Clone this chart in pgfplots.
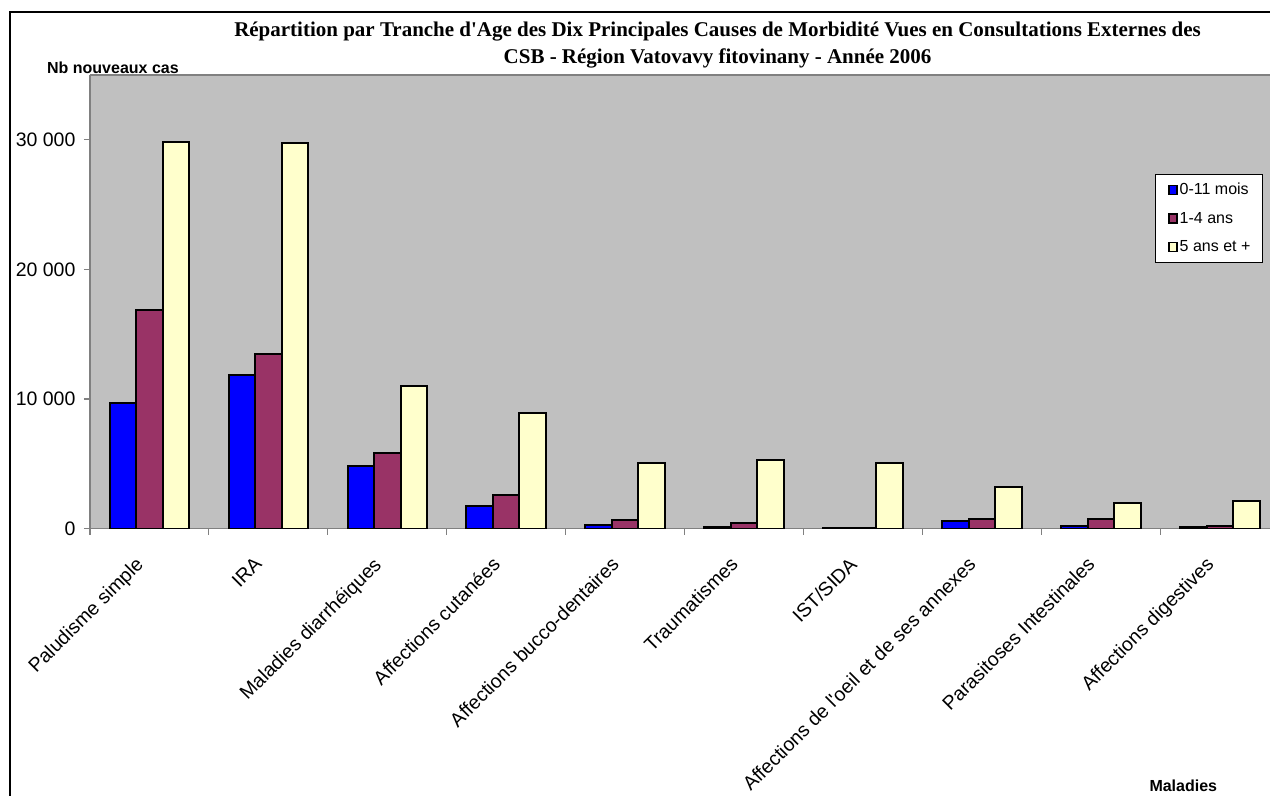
\documentclass[border=0pt]{standalone}
\usepackage{fontspec}
\setmainfont{Liberation Sans}
\newfontfamily\titlefont{Liberation Serif}
\usepackage{pgfplots}
\pgfplotsset{compat=1.18}
\definecolor{cblue}{HTML}{0000FF}
\definecolor{cplum}{HTML}{993366}
\definecolor{ccream}{HTML}{FFFFCC}
\definecolor{plotgray}{HTML}{C0C0C0}
\definecolor{axgray}{HTML}{808080}

\begin{document}
\begin{tikzpicture}[x=1pt,y=1pt]
\path (0,0) rectangle (1271,796);
\draw[line width=1.3pt] (10,0) -- (10,784) -- (1271,784);
\begin{axis}[
    at={(90pt,267pt)}, anchor=south west,
    scale only axis, width=1181pt, height=454pt,
    xmin=-0.5, xmax=9.4244, ymin=0, ymax=35000,
    ybar, bar width=0.2227,
    axis background/.style={fill=plotgray},
    axis x line*=bottom, axis y line*=left,
    axis line style={draw=axgray, line width=1.5pt},
    after end axis/.code={\draw[axgray, line width=1.5pt] (rel axis cs:0,1) -- (rel axis cs:1,1);},
    tick align=outside,
    major tick length=6pt, minor tick length=6pt,
    tick style={draw=axgray, line width=1.2pt},
    every major x tick/.append style={draw=none},
    xtick={0,...,9},
    minor xtick={-0.5,0.5,...,8.5},
    xticklabels={Paludisme simple, IRA, Maladies diarrhéiques, Affections cutanées,
      Affections bucco-dentaires, Traumatismes, IST/SIDA,
      Affections de l\textquotesingle oeil et de ses annexes,
      Parasitoses Intestinales, Affections digestives},
    xticklabel style={xshift=-15pt, yshift=-21pt, rotate=45, anchor=north east,
      inner sep=0pt, font=\fontsize{19.5}{19.5}\selectfont, overlay},
    ytick={0,10000,20000,30000},
    scaled y ticks=false,
    yticklabel style={font=\fontsize{19.5}{19.5}\selectfont, xshift=-5pt,
      /pgf/number format/.cd, 1000 sep={\ }, assume math mode=true},
    legend style={at={(0.902,0.782)}, anchor=north west, draw=black,
      line width=0.8pt, fill=white, font=\fontsize{16}{16}\selectfont,
      row sep=12pt, inner xsep=10pt, inner ysep=7pt},
    legend cell align=left,
    legend image code/.code={\path[draw=none, fill=none] (0pt,0pt) -- (12pt,0pt);
      \draw[#1, line width=1.5pt] (4pt,-4.5pt) rectangle (12pt,4.5pt);},
  ]
  \addplot[bar shift=-0.2227, fill=cblue, draw=black, line width=2pt] coordinates {
    (0,9700) (1,11850) (2,4850) (3,1720) (4,250)
    (5,130) (6,30) (7,590) (8,180) (9,100)};
  \addplot[bar shift=0, fill=cplum, draw=black, line width=2pt] coordinates {
    (0,16850) (1,13500) (2,5870) (3,2620) (4,670)
    (5,440) (6,50) (7,750) (8,720) (9,180)};
  \addplot[bar shift=0.2227, fill=ccream, draw=black, line width=2pt] coordinates {
    (0,29800) (1,29750) (2,11000) (3,8920) (4,5080)
    (5,5280) (6,5100) (7,3210) (8,1950) (9,2150)};
  \legend{0-11 mois, 1-4 ans, 5 ans et +}
\end{axis}
\node[font=\titlefont\bfseries\fontsize{21}{27}\selectfont, align=center]
  at (718,751) {Répartition par Tranche d\textquotesingle Age des Dix Principales Causes de Morbidité Vues en Consultations Externes des\\CSB - Région Vatovavy fitovinany - Année 2006};
\node[font=\bfseries\fontsize{16}{16}\selectfont] at (113,728) {Nb nouveaux cas};
\node[font=\bfseries\fontsize{16}{16}\selectfont] at (1184,10) {Maladies};
\end{tikzpicture}
\end{document}
